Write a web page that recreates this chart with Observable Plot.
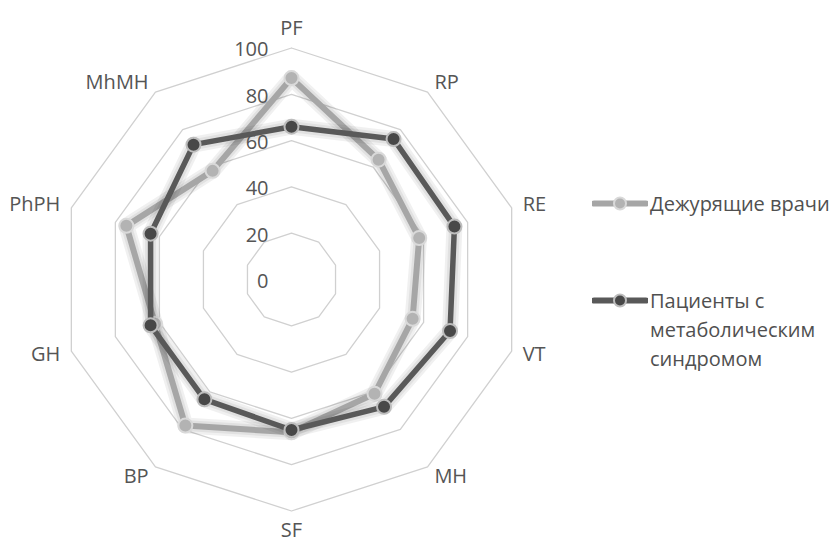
<!DOCTYPE html>
<html><head><meta charset="utf-8">
<script src="https://cdn.jsdelivr.net/npm/d3@7"></script>
<script src="https://cdn.jsdelivr.net/npm/@observablehq/plot@0.6"></script>
<style>
body{margin:0;background:#fff;font-family:"Open Sans",sans-serif;}
#wrap{position:relative;width:836px;height:543px;overflow:hidden;}
#legend{position:absolute;left:592px;top:0;font-family:"Open Sans",sans-serif;font-size:20px;color:#505050;}
#legend .item{position:absolute;left:0;display:flex;align-items:flex-start;white-space:nowrap;line-height:29px;}
#legend svg{flex:none;margin-right:2px;}
</style></head><body><div id="wrap"></div>
<script>
const categories = ["PF","RP","RE","VT","MH","SF","BP","GH","PhPH","MhMH"];
const doctors  = [87, 64, 58, 55, 61, 66, 78, 62, 75, 58];
const patients = [66, 75, 74, 72, 68, 65, 64, 64, 64, 72];
const seriesNames = ["Дежурящие врачи", "Пациенты с метаболическим синдромом"];
const ringTicks = [0, 20, 40, 60, 80, 100];

const n = categories.length;
const ang = i => 2 * Math.PI * i / n;
const k = 2.315; // px per unit
const cx = 291, cy = 279, W = 836, H = 543;

const rings = [];
for (const t of ringTicks) if (t > 0) for (let i = 0; i <= n; i++) rings.push({t, i});

function seriesRows(vals, name) {
  const out = [];
  for (let i = 0; i <= n; i++) out.push({series: name, i: i % n, value: vals[i % n]});
  return out;
}
const docRows = seriesRows(doctors, seriesNames[0]);
const patRows = seriesRows(patients, seriesNames[1]);
const docPts = docRows.slice(0, n);
const patPts = patRows.slice(0, n);

const catRows = categories.map((c, i) => ({c, i}));
const px = (r, i) => r * Math.sin(ang(i));
const py = (r, i) => r * Math.cos(ang(i));
const X = d => px(d.value, d.i), Y = d => py(d.value, d.i);

const colors = ["#a6a6a6", "#595959"];
const dotFill = ["#b3b3b3", "#484848"];
const dotStroke = ["#d9d9d9", "#bdbdbd"];
const textColor = "#555555";

const chart = Plot.plot({
  width: W, height: H, margin: 0,
  x: {domain: [-cx / k, (W - cx) / k], axis: null},
  y: {domain: [-(H - cy) / k, cy / k], axis: null},
  style: {fontFamily: "Open Sans, sans-serif", background: "transparent", overflow: "visible"},
  marks: [
    Plot.line(rings, {x: d => px(d.t, d.i), y: d => py(d.t, d.i), z: "t", stroke: "#d0d0d0", strokeWidth: 1.3}),
    // soft glow under the lines
    Plot.line(docRows, {x: X, y: Y, stroke: "#000", strokeOpacity: 0.06, strokeWidth: 16, strokeLinejoin: "round"}),
    Plot.line(docRows, {x: X, y: Y, stroke: "#000", strokeOpacity: 0.06, strokeWidth: 11, strokeLinejoin: "round"}),
    Plot.line(docRows, {x: X, y: Y, stroke: colors[0], strokeWidth: 6, strokeLinejoin: "round"}),
    Plot.dot(docPts, {x: X, y: Y, r: 7, fill: dotFill[0], stroke: dotStroke[0], strokeWidth: 2}),
    Plot.line(patRows, {x: X, y: Y, stroke: "#000", strokeOpacity: 0.06, strokeWidth: 16, strokeLinejoin: "round"}),
    Plot.line(patRows, {x: X, y: Y, stroke: "#000", strokeOpacity: 0.06, strokeWidth: 11, strokeLinejoin: "round"}),
    Plot.line(patRows, {x: X, y: Y, stroke: colors[1], strokeWidth: 5.5, strokeLinejoin: "round"}),
    Plot.dot(patPts, {x: X, y: Y, r: 7, fill: dotFill[1], stroke: dotStroke[1], strokeWidth: 2}),
    Plot.text(ringTicks, {x: 0, y: d => d, text: d => String(d), dx: -23, dy: 2, textAnchor: "end", fontSize: 20, fill: textColor}),
    Plot.text(catRows.filter(d => d.i === 0 || d.i === 5), {x: d => px(108.5, d.i), y: d => py(108.5, d.i), text: "c", textAnchor: "middle", fontSize: 20, fill: textColor}),
    Plot.text(catRows.filter(d => d.i >= 1 && d.i <= 4), {x: d => px(105, d.i), y: d => py(105, d.i), text: "c", textAnchor: "start", fontSize: 20, fill: textColor}),
    Plot.text(catRows.filter(d => d.i >= 6), {x: d => px(105, d.i), y: d => py(105, d.i), text: "c", textAnchor: "end", fontSize: 20, fill: textColor})
  ]
});

const wrap = document.getElementById("wrap");
wrap.appendChild(chart);

const legend = document.createElement("div");
legend.id = "legend";
const legendTops = [188.5, 285.5];
const legendLines = [["Дежурящие врачи"], ["Пациенты с", "метаболическим", "синдромом"]];
seriesNames.forEach((name, s) => {
  const item = document.createElement("div");
  item.className = "item";
  item.style.top = legendTops[s] + "px";
  item.innerHTML = `<svg width="56" height="29"><line x1="2" x2="54" y1="14.5" y2="14.5" stroke="${colors[s]}" stroke-width="6" stroke-linecap="round"/><circle cx="28" cy="14.5" r="6" fill="${dotFill[s]}" stroke="${dotStroke[s]}" stroke-width="2"/></svg><span>${legendLines[s].join("<br>")}</span>`;
  legend.appendChild(item);
});
wrap.appendChild(legend);
</script>
</body></html>
